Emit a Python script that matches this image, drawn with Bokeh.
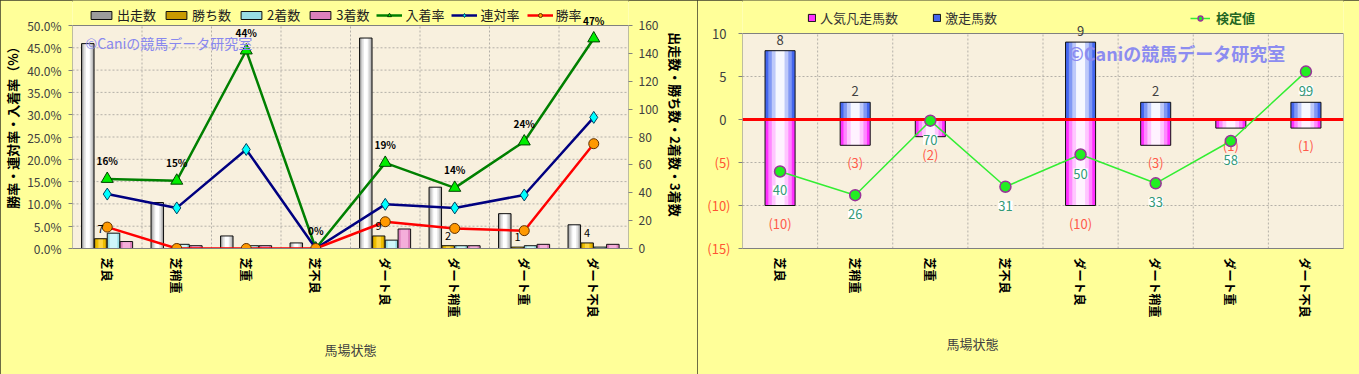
from bokeh.plotting import figure
from bokeh.models import (FactorRange, Range1d, LinearAxis, Legend, LegendItem, Label,
                          LabelSet, ColumnDataSource, FixedTicker, PrintfTickFormatter, Title)
from bokeh.transform import dodge
from bokeh.layouts import row
from bokeh.embed import file_html
from bokeh.resources import INLINE
from bokeh.core.properties import value

FONT = "Noto Sans CJK JP"

# ---------------- data ----------------
cats = ["芝良", "芝稍重", "芝重", "芝不良", "ダート良", "ダート稍重", "ダート重", "ダート不良"]
runs = [147, 33, 9, 4, 151, 44, 25, 17]
wins = [7, 0, 0, 0, 9, 2, 1, 4]
seconds = [11, 3, 2, 0, 6, 2, 2, 1]
thirds = [5, 2, 2, 0, 14, 2, 3, 3]
win_rate = [4.8, 0.0, 0.0, 0.0, 6.0, 4.5, 4.0, 23.5]
quinella_rate = [12.2, 9.1, 22.2, 0.0, 9.9, 9.1, 12.0, 29.4]
place_rate = [15.6, 15.2, 44.4, 0.0, 19.2, 13.6, 24.0, 47.1]
place_labels = ["16%", "15%", "44%", "0%", "19%", "14%", "24%", "47%"]
win_labels = ["7", "", "", "", "9", "2", "1", "4"]
rate_ticks = [0, 5, 10, 15, 20, 25, 30, 35, 40, 45, 50]
count_ticks = [0, 20, 40, 60, 80, 100, 120, 140, 160]

upset = [8, 2, 0, 0, 9, 2, 0, 2]          # 激走馬数
flop = [10, 3, 2, 0, 10, 3, 1, 1]         # 人気凡走馬数 (shown negative)
test_value = [40, 26, 70, 31, 50, 33, 58, 99]  # 検定値
y2_ticks = [10, 5, 0, -5, -10, -15]
test_axis = [-5.5, 121.5]                 # hidden axis of 検定値

# ---------------- layout constants ----------------
W1, W2, H = 697, 662, 374
BOTTOM = 126
AREA1_H, PAD1 = 223, 25      # left plot area height / legend strip above it
AREA2_H, PAD2 = 215, 33      # right plot area height / legend strip above it
BG = "#FFFF99"
PLOT_BG = "#F8F0DE"
GRID = "#B4B0A8"
EDGE = "2px solid #3C3C28"
N = len(cats)


def extend(lo, hi, area_h, pad):
    return hi + (hi - lo) * pad / area_h


def style_axis(ax, size="12px", color="#404040"):
    ax.major_label_text_font = FONT
    ax.major_label_text_font_size = size
    ax.major_label_text_color = color
    ax.axis_label_text_font = FONT
    ax.axis_line_color = None
    ax.major_tick_line_color = "#808080"
    ax.minor_tick_line_color = None
    ax.major_tick_in = 0
    ax.major_tick_out = 4


def grad_bar(p, x, top, bottom, width, layers, src, yr="default"):
    base = None
    for frac, col in layers:
        r = p.vbar(x=x, top=top, bottom=bottom, width=width * frac, source=src,
                   fill_color=col, line_color=None, y_range_name=yr)
        if base is None:
            base = r
    outline = p.vbar(x=x, top=top, bottom=bottom, width=width, source=src,
                     fill_color=None, line_color="#101010", line_width=1, y_range_name=yr)
    return [base, outline]


def plot_area(p, lo, hi, ticks):
    # plot-area box and dashed grid
    p.quad(left=[0], right=[N], bottom=[lo], top=[hi], fill_color=PLOT_BG,
           line_color="#808080", line_width=1)
    inner = [t for t in ticks if lo < t < hi]
    p.segment(x0=[0] * len(inner), x1=[N] * len(inner), y0=inner, y1=inner,
              line_color=GRID, line_dash="2 2", line_width=1)
    b = list(range(1, N))
    p.segment(x0=b, x1=b, y0=[lo] * len(b), y1=[hi] * len(b),
              line_color=GRID, line_dash="2 2", line_width=1)


def style_legend(lg):
    lg.background_fill_alpha = 0
    lg.border_line_color = None
    lg.padding = 0
    lg.margin = 0
    lg.label_text_font = FONT
    lg.label_text_font_size = "13px"
    lg.label_height = 14


# ---------------- left chart ----------------
src1 = ColumnDataSource(dict(cat=cats, runs=runs, wins=wins, seconds=seconds, thirds=thirds,
                             zero=[0] * N,
                             win_rate=win_rate, quinella_rate=quinella_rate,
                             place_rate=place_rate, place_lbl=place_labels, win_lbl=win_labels))

p1 = figure(width=W1, height=H, x_range=FactorRange(*cats),
            y_range=Range1d(rate_ticks[0], extend(rate_ticks[0], rate_ticks[-1], AREA1_H, PAD1)),
            output_backend="svg", toolbar_location=None,
            min_border_left=67, min_border_right=69, min_border_top=0, min_border_bottom=BOTTOM,
            background_fill_color=BG, border_fill_color=BG, outline_line_color=None)
p1.title.visible = False
p1.extra_y_ranges = {"cnt": Range1d(count_ticks[0],
                                    extend(count_ticks[0], count_ticks[-1], AREA1_H, PAD1))}
p1.styles = {"outline": EDGE, "outline-offset": "-2px"}
p1.grid.visible = False

plot_area(p1, rate_ticks[0], rate_ticks[-1], rate_ticks)

bw = 0.18
r_runs = grad_bar(p1, dodge("cat", -0.28, range=p1.x_range), "runs", "zero", bw,
                  [(1.0, "#9C9C9C"), (0.8, "#C6C6C6"), (0.58, "#E4E4E4"), (0.32, "#FFFFFF")],
                  src1, "cnt")
r_wins = grad_bar(p1, dodge("cat", -0.095, range=p1.x_range), "wins", "zero", bw,
                  [(1.0, "#C89A00"), (0.72, "#EDBE00"), (0.36, "#FFD640")], src1, "cnt")
r_sec = grad_bar(p1, dodge("cat", 0.09, range=p1.x_range), "seconds", "zero", bw,
                 [(1.0, "#98DCE4"), (0.62, "#CFF6FA")], src1, "cnt")
r_thr = grad_bar(p1, dodge("cat", 0.275, range=p1.x_range), "thirds", "zero", bw,
                 [(1.0, "#DC80BC"), (0.6, "#F4AEDA")], src1, "cnt")

l_place = p1.line("cat", "place_rate", source=src1, line_color="#008000", line_width=2.5)
m_place = p1.scatter("cat", "place_rate", source=src1, marker="triangle", size=12,
                     fill_color="#00EE00", line_color="#004000", line_width=1)
l_quin = p1.line("cat", "quinella_rate", source=src1, line_color="#000080", line_width=2.5)
m_quin = p1.scatter("cat", "quinella_rate", source=src1, marker="diamond", size=12,
                    fill_color="#00FFFF", line_color="#004060", line_width=1)
l_win = p1.line("cat", "win_rate", source=src1, line_color="#FF0000", line_width=2.5)
m_win = p1.scatter("cat", "win_rate", source=src1, marker="circle", size=10,
                   fill_color="#FF9900", line_color="#603000", line_width=1)

p1.text(x="cat", y="place_rate", text="place_lbl", source=src1, text_align="center",
        text_baseline="middle", y_offset=-18, text_font=value(FONT), text_font_size="10px",
        text_font_style="bold", text_color="#000000")
p1.text(x=dodge("cat", -0.095, range=p1.x_range), y="wins", text="win_lbl", source=src1,
        y_range_name="cnt", text_align="center", text_baseline="bottom", y_offset=-6,
        text_font=value(FONT), text_font_size="11px", text_color="#000000")

p1.add_layout(Label(x=13, y=206, x_units="screen", y_units="screen",
                    text="©Caniの競馬データ研究室", text_color="#8888EE",
                    text_font=FONT, text_font_size="14px", text_baseline="middle"))

yax = p1.yaxis[0]
yax.ticker = FixedTicker(ticks=rate_ticks)
yax.formatter = PrintfTickFormatter(format="%.1f%%")
yax.axis_label = "勝率・連対率・入着率（%）"
style_axis(yax)
yax.axis_label_text_font_size = "13px"
yax.axis_label_text_font_style = "bold"
yax.axis_label_text_color = "#000000"
yax.axis_label_standoff = 2
yax.major_label_standoff = 7

rax = LinearAxis(y_range_name="cnt", ticker=FixedTicker(ticks=count_ticks),
                 axis_label="出走数・勝ち数・2着数・3着数")
style_axis(rax)
rax.axis_label_text_font_size = "13px"
rax.axis_label_text_font_style = "bold"
rax.axis_label_text_color = "#000000"
rax.axis_label_standoff = 5
rax.major_label_standoff = 6
p1.add_layout(rax, "right")

xax = p1.xaxis[0]
style_axis(xax, "12px", "#000000")
xax.axis_line_color = "#808080"
xax.major_label_orientation = "vertical"
xax.major_label_text_font_style = "bold"
xax.major_tick_line_color = None
xax.major_tick_out = 0
xax.major_label_standoff = 9
xax.axis_label = "馬場状態"
xax.axis_label_text_font_size = "13px"
xax.axis_label_text_font_style = "normal"
xax.axis_label_text_color = "#404040"
xax.axis_label_standoff = 19

leg1 = Legend(items=[
    LegendItem(label="出走数", renderers=r_runs),
    LegendItem(label="勝ち数", renderers=r_wins),
    LegendItem(label="2着数", renderers=r_sec),
    LegendItem(label="3着数", renderers=r_thr),
    LegendItem(label="入着率", renderers=[l_place, m_place]),
    LegendItem(label="連対率", renderers=[l_quin, m_quin]),
    LegendItem(label="勝率", renderers=[l_win, m_win]),
], orientation="horizontal", location=(16, AREA1_H + 1))
style_legend(leg1)
leg1.spacing = 7
leg1.glyph_width = 26
leg1.glyph_height = 10
leg1.label_standoff = 3
leg1.label_text_color = "#202020"
p1.add_layout(leg1)

# ---------------- right chart ----------------
src2 = ColumnDataSource(dict(cat=cats, upset=upset, zero=[0] * N,
                             flop_neg=[-v for v in flop], test=test_value,
                             up_lbl=[str(v) if v else "" for v in upset],
                             fl_lbl=["(%d)" % v if v else "" for v in flop],
                             test_lbl=[str(v) for v in test_value]))

p2 = figure(width=W2, height=H, x_range=FactorRange(*cats),
            y_range=Range1d(y2_ticks[-1], extend(y2_ticks[-1], y2_ticks[0], AREA2_H, PAD2)),
            output_backend="svg", toolbar_location=None,
            min_border_left=45, min_border_right=16, min_border_top=0, min_border_bottom=BOTTOM,
            background_fill_color=BG, border_fill_color=BG, outline_line_color=None)
p2.title.visible = False
p2.extra_y_ranges = {"kt": Range1d(test_axis[0],
                                   extend(test_axis[0], test_axis[1], AREA2_H, PAD2))}
p2.styles = {"outline": EDGE, "outline-offset": "-2px"}
p2.grid.visible = False

plot_area(p2, y2_ticks[-1], y2_ticks[0], y2_ticks)

bw2 = 0.4
r_flop = grad_bar(p2, "cat", "zero", "flop_neg", bw2,
                  [(1.0, "#FF30FF"), (0.78, "#FF88FF"), (0.55, "#FFC6FF"), (0.3, "#FFF2FF")], src2)
r_up = grad_bar(p2, "cat", "upset", "zero", bw2,
                [(1.0, "#4466EE"), (0.78, "#8098F4"), (0.55, "#BDC9FA"), (0.3, "#F6F8FF")], src2)

p2.segment(x0=[0], x1=[N], y0=[0], y1=[0], line_color="#FF0000", line_width=3)

p2.text(x="cat", y="upset", text="up_lbl", source=src2, text_align="center",
        text_baseline="bottom", y_offset=-6, text_font=value(FONT), text_font_size="13px",
        text_color="#404040")
p2.text(x="cat", y="flop_neg", text="fl_lbl", source=src2, text_align="center",
        text_baseline="top", y_offset=8, text_font=value(FONT), text_font_size="13px",
        text_color="#FF5A4A")

l_test = p2.line("cat", "test", source=src2, y_range_name="kt", line_color="#33EE33",
                 line_width=1.5)
m_test = p2.scatter("cat", "test", source=src2, y_range_name="kt", marker="circle", size=11,
                    fill_color="#22EE22", line_color="#993399", line_width=1.5)
p2.add_layout(LabelSet(x="cat", y="test", text="test_lbl", source=src2, y_range_name="kt",
                       text_align="center", text_baseline="middle", y_offset=-19,
                       text_color="#339977", text_font=value(FONT), text_font_size="13px",
                       background_fill_color="#FFFFFF"))

p2.add_layout(Label(x=326, y=196, x_units="screen", y_units="screen",
                    text="©Caniの競馬データ研究室", text_color="#8C8CF0",
                    text_font=FONT, text_font_size="18px", text_font_style="bold",
                    text_baseline="middle"))

yax2 = p2.yaxis[0]
yax2.ticker = FixedTicker(ticks=y2_ticks)
yax2.major_label_overrides = {t: (str(t) if t >= 0 else "") for t in y2_ticks}
style_axis(yax2, "13px", "#404040")
yax2.major_label_standoff = 12

neg_ticks = [t for t in y2_ticks if t < 0]
neg_ax = LinearAxis(ticker=FixedTicker(ticks=neg_ticks),
                    major_label_overrides={t: "(%d)" % (-t) for t in neg_ticks})
style_axis(neg_ax, "13px", "#FF5533")
neg_ax.major_tick_line_color = None
neg_ax.major_tick_out = 0
neg_ax.major_label_standoff = -21
p2.add_layout(neg_ax, "left")

xax2 = p2.xaxis[0]
style_axis(xax2, "12px", "#000000")
xax2.axis_line_color = "#808080"
xax2.major_label_orientation = "vertical"
xax2.major_label_text_font_style = "bold"
xax2.major_tick_line_color = None
xax2.major_tick_out = 0
xax2.major_label_standoff = 9
p2.add_layout(Title(text="馬場状態", align="left", offset=204, standoff=22,
                    text_font=FONT, text_font_size="13px", text_font_style="normal",
                    text_color="#404040"), "below")

leg2 = Legend(items=[
    LegendItem(label="人気凡走馬数", renderers=r_flop),
    LegendItem(label="激走馬数", renderers=r_up),
], orientation="horizontal", location=(65, AREA2_H + 6))
style_legend(leg2)
leg2.spacing = 34
leg2.label_standoff = 4
leg2.glyph_width = 9
leg2.glyph_height = 9
leg2.label_text_color = "#333333"
p2.add_layout(leg2)

leg3 = Legend(items=[LegendItem(label="検定値", renderers=[l_test, m_test])],
              orientation="horizontal", location=(448, AREA2_H + 6))
style_legend(leg3)
leg3.label_standoff = 6
leg3.glyph_width = 20
leg3.glyph_height = 12
leg3.label_text_color = "#226622"
leg3.label_text_font_style = "bold"
p2.add_layout(leg3)

layout = row(p1, p2)
open("out.html", "w").write(file_html(layout, INLINE))
